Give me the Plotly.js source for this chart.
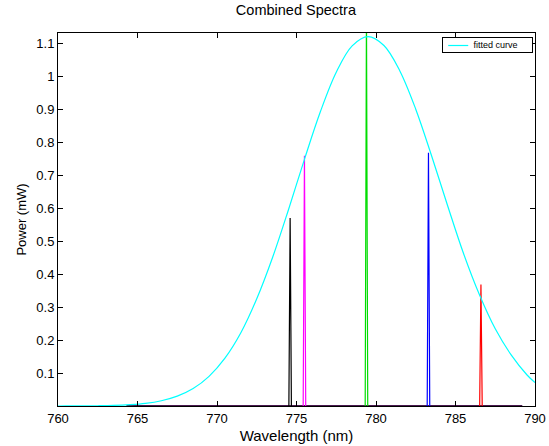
<!DOCTYPE html>
<html><head><meta charset="utf-8">
<script src="https://cdn.plot.ly/plotly-3.0.1.min.js"></script>
<style>html,body{margin:0;padding:0;background:#fff}</style>
</head><body>
<div id="chart" style="width:549px;height:446px"></div>
<script>
// Fitted curve samples
const fitX = [760,760.5,761.5,762.5,763.5,764.5,765.5,766.5,767.5,768.5,769.5,770.5,771.5,772.5,773.5,774.5,775.5,776.5,777.5,778.5,779.5,780.5,781.5,782.5,783.5,784.5,785.5,786.5,787.5,788.5,789.5,790];
const fitY = [0.000,0.0001,0.0003,0.0008,0.0018,0.004,0.008,0.016,0.030,0.053,0.090,0.145,0.222,0.325,0.451,0.596,0.748,0.892,1.012,1.092,1.120,1.093,1.016,0.900,0.758,0.608,0.463,0.338,0.234,0.155,0.094,0.071];
const fitName = 'fitted curve';

// Spectral peaks
const peakCenters = [774.6, 775.5, 779.4, 783.3, 786.6];
const peakHeights = [0.57, 0.759, 1.2, 0.768, 0.368];
const peakColors = ['#000000', '#ff00ff', '#00dd00', '#0000ff', '#ff0000'];
const halfWidth = 0.08;

// Baseline of spectra
const baseX = [764.3, 789.2];
const baseY = [0, 0];

const traces = [];
traces.push({x: baseX, y: baseY, mode: 'lines', line: {color: '#4a1a50', width: 2}, showlegend: false, hoverinfo: 'skip'});
peakCenters.forEach((c, i) => {
  traces.push({
    x: [c - halfWidth, c, c + halfWidth],
    y: [0, peakHeights[i], 0],
    mode: 'lines', line: {color: peakColors[i], width: 1.2}, showlegend: false
  });
});
traces.push({x: fitX, y: fitY, mode: 'lines', name: fitName, showlegend: false, line: {color: '#00ffff', width: 1.2, shape: 'spline'}});

const fam = 'Liberation Sans, Arial, sans-serif';
const layout = {
  width: 549, height: 446,
  margin: {l: 58, r: 14, t: 33, b: 40},
  paper_bgcolor: '#fff', plot_bgcolor: '#fff',
  font: {family: fam, size: 13, color: '#000'},
  title: {text: 'Combined Spectra', font: {family: fam, size: 14.5, color: '#000'}, x: 0.539, xanchor: 'center', y: 0.99, yanchor: 'top'},
  xaxis: {
    range: [760, 790], tickvals: [760,765,770,775,780,785,790], ticktext: ['760','765','770','775','780','785','790'],
    ticks: 'inside', ticklen: 5, tickcolor: '#000', mirror: 'ticks', showline: true, linecolor: '#000', linewidth: 1,
    showgrid: false, zeroline: false,
    title: {text: 'Wavelength (nm)', font: {family: fam, size: 15}, standoff: 5},
    tickfont: {size: 13}
  },
  yaxis: {
    range: [0, 1.131], tickvals: [0.1,0.2,0.3,0.4,0.5,0.6,0.7,0.8,0.9,1,1.1], ticktext: ['0.1','0.2','0.3','0.4','0.5','0.6','0.7','0.8','0.9','1','1.1'],
    ticks: 'inside', ticklen: 5, tickcolor: '#000', mirror: 'ticks', showline: true, linecolor: '#000', linewidth: 1,
    showgrid: false, zeroline: false,
    title: {text: 'Power (mW)', font: {family: fam, size: 13}, standoff: 6},
    tickfont: {size: 13}
  },
  showlegend: false,
  annotations: [{
    xref: 'paper', yref: 'paper', x: 0.996, y: 0.99, xanchor: 'right', yanchor: 'top',
    text: fitName + '\u00a0\u00a0\u00a0\u00a0\u00a0', showarrow: false, font: {family: fam, size: 9, color: '#000'},
    bgcolor: 'rgba(0,0,0,0)', bordercolor: '#000', borderwidth: 1, borderpad: 2, width: 85, align: 'right'
  }],
  shapes: [
    {type: 'rect', xref: 'paper', yref: 'paper', x0: 0.805, x1: 0.994, y0: 0.95, y1: 0.986, fillcolor: '#fff', line: {width: 0}, layer: 'above'},
    {type: 'line', xref: 'paper', yref: 'paper', x0: 0.818, x1: 0.860, y0: 0.9665, y1: 0.9665, line: {color: '#00ffff', width: 1.2}, layer: 'above'}
  ]
};
Plotly.newPlot('chart', traces, layout, {displayModeBar: false, staticPlot: true});
</script>
</body></html>
